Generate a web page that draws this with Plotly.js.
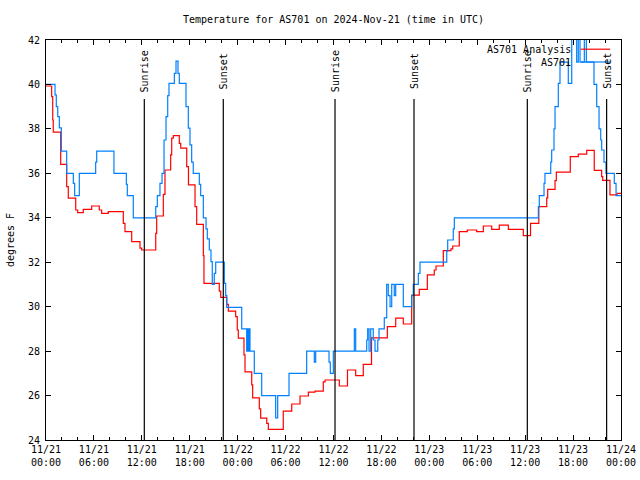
<!DOCTYPE html>
<html>
<head>
<meta charset="utf-8">
<script src="https://cdn.plot.ly/plotly-3.0.1.min.js"></script>
<style>html,body{margin:0;padding:0;background:#fff;}#chart{width:640px;height:480px;}</style>
</head>
<body>
<div id="chart"></div>
<script>
// Hours since 2024-11-21 00:00 UTC
const analysisHours = [0,0.71,0.84,0.91,1.84,2.59,2.79,3.72,3.97,4.67,5.72,6.67,6.97,7.80,9.68,9.89,10.73,11.77,11.98,13.74,13.86,14.69,14.90,15.61,15.74,15.94,16.69,16.87,17.62,17.84,18.66,18.87,19.70,19.78,21.70,21.88,22.63,22.83,23.75,23.95,24.08,24.79,24.92,25.76,25.88,26.71,26.88,27.64,27.84,29.71,30.77,31.81,32.85,33.68,34.72,34.94,36.73,37.75,38.78,39.73,40.76,42.74,43.79,44.74,45.79,46.74,47.75,48.62,48.84,49.75,50.71,50.93,51.75,52.75,53.93,54.76,55.81,56.76,57.89,59.77,60.67,61.71,62.70,62.82,63.74,63.90,65.65,66.65,67.71,68.65,69.58,69.71,70.62,71.50,72];
const analysisTemps = [39.93,39.45,38.4,37.85,36.4,35.4,34.88,34.35,34.23,34.38,34.53,34.35,34.2,34.28,33.75,33.38,32.93,32.63,32.55,33.3,34.08,35.05,36.15,36.83,37.58,37.7,37.35,37.13,36.3,35.48,34.5,33.7,32.3,31.05,30.7,30.42,30.1,29.8,29.55,28.95,28.58,27.83,27.07,26.48,25.9,25.4,24.98,24.75,24.48,25.3,25.62,25.98,26.15,26.2,26.62,26.7,26.43,27.15,26.9,27.4,28.6,29.1,29.48,29.22,30.52,30.78,31.43,31.65,31.83,32.52,32.6,32.73,33.38,33.45,33.38,33.63,33.48,33.67,33.48,33.2,33.75,34.5,34.9,35.28,35.67,36.05,36.75,36.86,37.03,36.13,35.85,35.68,35.03,35.1,35.1];

const obsHours = [0,1.13,1.29,1.47,1.67,1.92,2.59,3.42,3.59,4.17,6.22,6.35,8.51,10.06,10.18,10.93,13.74,13.94,14.27,14.53,14.78,15.03,15.24,15.40,16.07,16.28,16.53,16.69,17.53,17.82,18.03,18.24,18.44,19.20,19.37,19.70,20.04,20.20,20.45,20.66,20.82,21.07,21.25,22.33,22.50,22.63,24.51,25.13,25.26,25.33,25.46,25.54,26.08,27.01,28.76,29.01,30.43,32.64,33.60,33.77,35.44,35.60,35.98,38.61,38.78,40.16,40.28,40.45,40.66,40.98,41.20,41.54,41.70,42.36,42.66,42.86,43.08,43.29,43.61,43.79,44.74,45.79,45.99,46.62,46.83,50.18,50.30,51.00,51.13,61.65,61.77,62.36,62.48,63.20,63.32,63.61,63.74,64.15,64.36,65.40,65.83,66.45,66.65,66.87,67.41,67.66,68.62,68.96,69.25,69.46,69.58,69.87,70.12,71.16,71.38,72];
const obsTemps = [40.0,39.53,39.0,38.55,38.05,37.0,36.0,35.55,35.0,36.0,36.5,37.0,36.0,35.5,35.0,34.0,34.5,35.0,35.55,36.0,37.5,38.55,39.5,40.05,40.5,41.05,40.5,40.05,39.0,38.03,37.28,36.5,36.0,35.5,35.0,34.0,33.5,33.05,32.55,32.03,31.0,31.5,32.0,31.05,30.5,29.97,29.0,28.0,29.0,28.0,29.0,28.0,27.0,26.0,25.0,26.0,27.0,28.0,27.5,28.0,27.5,27.0,28.0,29.0,28.0,28.5,29.0,28.0,29.0,28.5,28.0,28.5,29.0,29.5,31.0,30.5,30.0,31.0,30.5,31.0,30.0,30.5,31.0,31.5,32.0,32.5,33.0,33.5,34.0,34.5,35.0,35.55,36.0,36.5,37.05,38.0,39.0,40.05,41.0,40.05,42.6,41.0,42.6,41.0,42.6,41.0,40.0,39.0,38.0,37.5,37.05,36.5,36.0,35.55,35.0,35.0];

const sunLabels = ['Sunrise','Sunset','Sunrise','Sunset','Sunrise','Sunset'];
const sunHours = [12.31,22.2,36.19,46.08,60.27,70.2];

const tickHours = [0,6,12,18,24,30,36,42,48,54,60,66,72];
const tickLabels = ['11/21<br>00:00','11/21<br>06:00','11/21<br>12:00','11/21<br>18:00','11/22<br>00:00','11/22<br>06:00','11/22<br>12:00','11/22<br>18:00','11/23<br>00:00','11/23<br>06:00','11/23<br>12:00','11/23<br>18:00','11/24<br>00:00'];

const seriesNames = ['AS701 Analysis','AS701'];
const seriesColors = ['#ff0000','#0080ff'];

const FONT = 'DejaVu Sans Mono, monospace';

const traces = [
  {x: analysisHours, y: analysisTemps, name: seriesNames[0], type:'scatter', mode:'lines',
   line:{shape:'hv', color:seriesColors[0], width:1.2}, showlegend:false},
  {x: obsHours, y: obsTemps, name: seriesNames[1], type:'scatter', mode:'lines',
   line:{shape:'hv', color:seriesColors[1], width:1.2}, showlegend:false}
];

const shapes = [];
const annotations = [];
sunHours.forEach((h,i)=>{
  shapes.push({type:'line', xref:'x', yref:'y', x0:h, x1:h, y0:24, y1:39.35, line:{color:'#000', width:1.2}});
  annotations.push({x:h, y:40.6, xref:'x', yref:'y', text:sunLabels[i], textangle:-90, showarrow:false,
    xanchor:'center', yanchor:'middle', font:{family:FONT, size:10, color:'#000'}});
});
// key drawn like the original: text right-aligned, then sample line
const keyY = [0.977, 0.945];
seriesNames.forEach((n,i)=>{
  annotations.push({x:0.9165, y:keyY[i], xref:'paper', yref:'paper', text:n, showarrow:false,
    xanchor:'right', yanchor:'middle', font:{family:FONT, size:10, color:'#000'}});
  shapes.push({type:'line', xref:'paper', yref:'paper', x0:0.930, x1:0.981, y0:keyY[i], y1:keyY[i],
    line:{color:seriesColors[i], width:1.2}});
});

const layout = {
  width:640, height:480,
  margin:{l:46, r:19, t:40, b:40, pad:0},
  paper_bgcolor:'#fff', plot_bgcolor:'#fff',
  font:{family:FONT, size:10, color:'#000'},
  title:{text:'Temperature for AS701 on 2024-Nov-21 (time in UTC)', x:0.5, xref:'paper', xanchor:'center',
    y:1-19/480, yref:'container', yanchor:'middle', font:{family:FONT, size:10, color:'#000'}},
  xaxis:{range:[0,72], tickmode:'array', tickvals:tickHours, ticktext:tickLabels,
    ticks:'inside', ticklen:5, tickcolor:'#000', tickwidth:1,
    showline:true, linecolor:'#000', linewidth:1, mirror:'ticks',
    showgrid:false, zeroline:false, tickfont:{family:FONT, size:10, color:'#000'},
    minor:{dtick:2, tick0:0, ticks:'inside', ticklen:3, tickcolor:'#000', showgrid:false}},
  yaxis:{range:[24,42], dtick:2, tick0:24,
    ticks:'inside', ticklen:5, tickcolor:'#000', tickwidth:1,
    showline:true, linecolor:'#000', linewidth:1, mirror:'ticks', ticklabelstandoff:3,
    showgrid:false, zeroline:false, tickfont:{family:FONT, size:10, color:'#000'},
    title:{text:'degrees F', standoff:11, font:{family:FONT, size:10, color:'#000'}}},
  shapes: shapes,
  annotations: annotations
};

Plotly.newPlot('chart', traces, layout, {staticPlot:true, displayModeBar:false});
</script>
</body>
</html>
